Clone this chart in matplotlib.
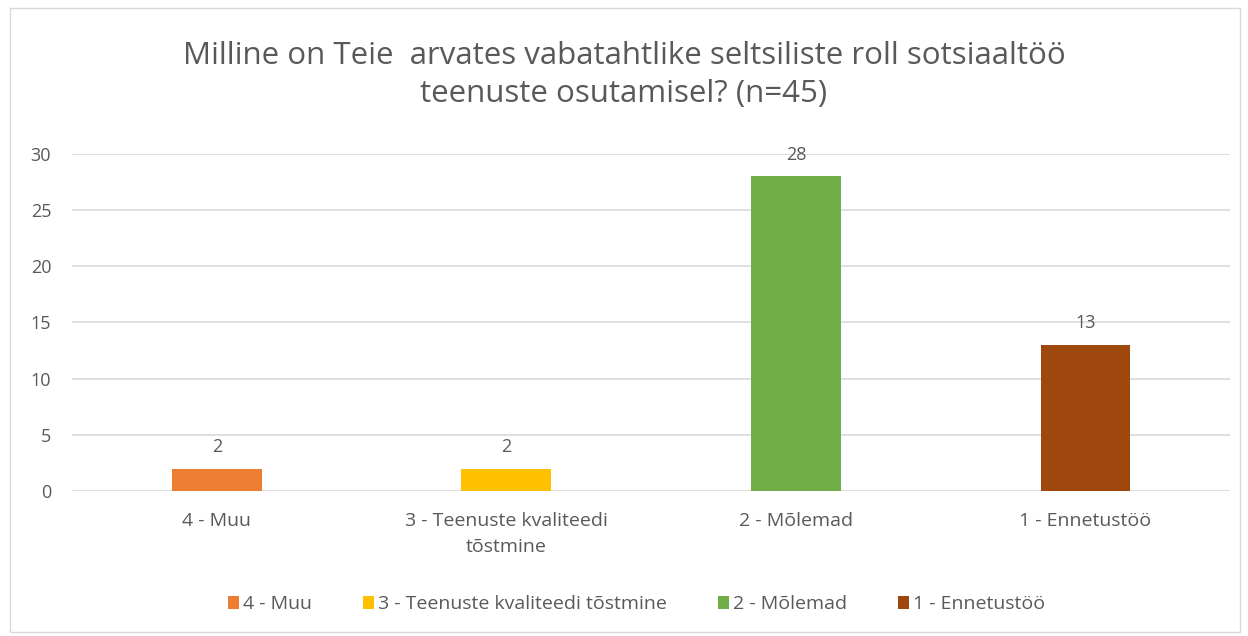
import matplotlib.pyplot as plt
from matplotlib.patches import Rectangle

plt.rcParams['font.family'] = ['Open Sans', 'DejaVu Sans']

# data
categories = ['4 - Muu', '3 - Teenuste kvaliteedi tõstmine', '2 - Mõlemad', '1 - Ennetustöö']
tick_labels = ['4 - Muu', '3 - Teenuste kvaliteedi\ntõstmine', '2 - Mõlemad', '1 - Ennetustöö']
values = [2, 2, 28, 13]
colors = ['#ED7D31', '#FFC000', '#70AD47', '#9E480E']

txt = '#595959'

fig = plt.figure(figsize=(12.48, 6.36), dpi=100)
ax = fig.add_axes([0.0577, 0.228, 0.928, 0.530])

x = range(len(categories))
bars = ax.bar(x, values, width=0.31, color=colors, label=categories, zorder=3)
for b, v in zip(bars, values):
    ax.annotate(str(v), (b.get_x() + b.get_width() / 2, v), xytext=(0, 9),
                textcoords='offset points', ha='center', va='bottom',
                fontsize=13, color=txt)

ax.set_xlim(-0.5, len(categories) - 0.5)
ax.set_ylim(0, 30)
ax.set_yticks(range(0, 31, 5))
ax.set_xticks(list(x))
ax.set_xticklabels(tick_labels, fontsize=14, linespacing=1.6)
ax.grid(axis='y', color='#D9D9D9', linewidth=1.2, zorder=0)
for s in ax.spines.values():
    s.set_visible(False)
ax.tick_params(length=0, labelsize=13, colors=txt)
ax.tick_params(axis='x', labelsize=14)
ax.tick_params(axis='y', pad=15)
ax.tick_params(axis='x', pad=15)

fig.suptitle('Milline on Teie  arvates vabatahtlike seltsiliste roll sotsiaaltöö\nteenuste osutamisel? (n=45)',
             y=0.935, fontsize=22.5, color=txt, linespacing=1.35)

fig.legend(handles=bars, labels=categories, loc='center', bbox_to_anchor=(0.51, 0.05),
           ncol=4, frameon=False, fontsize=14, labelcolor=txt, handlelength=0.6,
           handleheight=0.6, handletextpad=0.2, columnspacing=2.6)

fig.patches.append(Rectangle((10 / 1248, 4 / 636), 1230 / 1248, 624 / 636, transform=fig.transFigure,
                             fill=False, edgecolor='#D9D9D9', linewidth=1))

fig.savefig('out.png', dpi=100)
